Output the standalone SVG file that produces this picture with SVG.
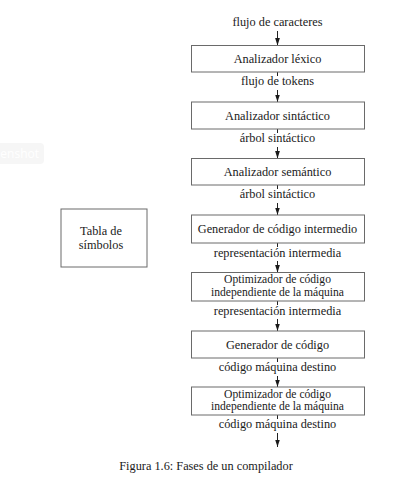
<svg xmlns="http://www.w3.org/2000/svg" width="411" height="493" viewBox="0 0 411 493">
  <style>
    .box { fill: #ffffff; stroke: #6a6a6a; stroke-width: 1; }
    .t { font-family: 'Liberation Serif', 'DejaVu Serif', 'Times New Roman', serif; font-size: 12.3px; fill: #1a1a1a; text-anchor: middle; }
    .t2 { font-size: 11.6px; }
    .ln { stroke: #222222; stroke-width: 1; fill: none; }
    .arr { stroke: #222222; stroke-width: 1; fill: none; marker-end: url(#ah); }
  </style>
  <defs>
    <marker id="ah" markerUnits="userSpaceOnUse" markerWidth="8" markerHeight="6" viewBox="0 0 8 6" refX="7.5" refY="3" orient="auto">
      <path d="M0,0.6 L7.5,3 L0,5.4 z" fill="#1a1a1a"/>
    </marker>
  </defs>
  <rect x="0" y="0" width="411" height="493" fill="#ffffff"/>

  <g id="watermark">
    <rect x="-10" y="143" width="54" height="21" rx="4" fill="#f6f6f6"/>
    <text x="39" y="158" font-family="'Open Sans', 'DejaVu Sans', sans-serif" font-size="12" fill="#ffffff" text-anchor="end">enshot</text>
  </g>

  <g id="connectors">
    <line class="arr" x1="277.5" y1="31" x2="277.5" y2="45.5"/>
    <line class="ln" x1="277.5" y1="72" x2="277.5" y2="76"/>
    <line class="arr" x1="277.5" y1="90" x2="277.5" y2="102"/>
    <line class="ln" x1="277.5" y1="129" x2="277.5" y2="133"/>
    <line class="arr" x1="277.5" y1="147" x2="277.5" y2="158.5"/>
    <line class="ln" x1="277.5" y1="185" x2="277.5" y2="189"/>
    <line class="arr" x1="277.5" y1="203" x2="277.5" y2="215"/>
    <line class="ln" x1="277.5" y1="243" x2="277.5" y2="247"/>
    <line class="arr" x1="277.5" y1="261" x2="277.5" y2="272.5"/>
    <line class="ln" x1="277.5" y1="301" x2="277.5" y2="305"/>
    <line class="arr" x1="277.5" y1="319" x2="277.5" y2="331"/>
    <line class="ln" x1="277.5" y1="358" x2="277.5" y2="362"/>
    <line class="arr" x1="277.5" y1="376" x2="277.5" y2="387"/>
    <line class="ln" x1="277.5" y1="415" x2="277.5" y2="419"/>
    <line class="arr" x1="277.5" y1="433" x2="277.5" y2="447"/>
    <g id="connector-labels">
      <text class="t" x="277.5" y="26">flujo de caracteres</text>
      <text class="t" x="277.5" y="85">flujo de tokens</text>
      <text class="t" x="277.5" y="142">árbol sintáctico</text>
      <text class="t" x="277.5" y="198">árbol sintáctico</text>
      <text class="t" x="277.5" y="257">representación intermedia</text>
      <text class="t" x="277.5" y="315">representación intermedia</text>
      <text class="t" x="277.5" y="371">código máquina destino</text>
      <text class="t" x="277.5" y="428">código máquina destino</text>
    </g>
  </g>

  <g id="lexico">
    <rect class="box" x="191.5" y="45.5" width="173" height="26.5"/>
    <text class="t" x="277.5" y="62.5">Analizador léxico</text>
  </g>
  <g id="sintactico">
    <rect class="box" x="191.5" y="102" width="173" height="27"/>
    <text class="t" x="277.5" y="119.5">Analizador sintáctico</text>
  </g>
  <g id="semantico">
    <rect class="box" x="191.5" y="158.5" width="173" height="26.5"/>
    <text class="t" x="277.5" y="175.5">Analizador semántico</text>
  </g>
  <g id="gen-intermedio">
    <rect class="box" x="191.5" y="215" width="173" height="28"/>
    <text class="t" x="277.5" y="233">Generador de código intermedio</text>
  </g>
  <g id="optimizador1">
    <rect class="box" x="191.5" y="272.5" width="173" height="28.5"/>
    <text class="t t2" x="277.5" y="283">Optimizador de código</text>
    <text class="t t2" x="277.5" y="295.5">independiente de la máquina</text>
  </g>
  <g id="gen-codigo">
    <rect class="box" x="191.5" y="331" width="173" height="27"/>
    <text class="t" x="277.5" y="348.5">Generador de código</text>
  </g>
  <g id="optimizador2">
    <rect class="box" x="191.5" y="387" width="173" height="28"/>
    <text class="t t2" x="277.5" y="397.5">Optimizador de código</text>
    <text class="t t2" x="277.5" y="410">independiente de la máquina</text>
  </g>
  <g id="tabla-simbolos">
    <rect class="box" x="61" y="209" width="86" height="58"/>
    <text class="t" x="101" y="235">Tabla de</text>
    <text class="t" x="101" y="249">símbolos</text>
  </g>

  <g id="caption">
    <text class="t" x="206" y="470">Figura 1.6: Fases de un compilador</text>
  </g>
</svg>
